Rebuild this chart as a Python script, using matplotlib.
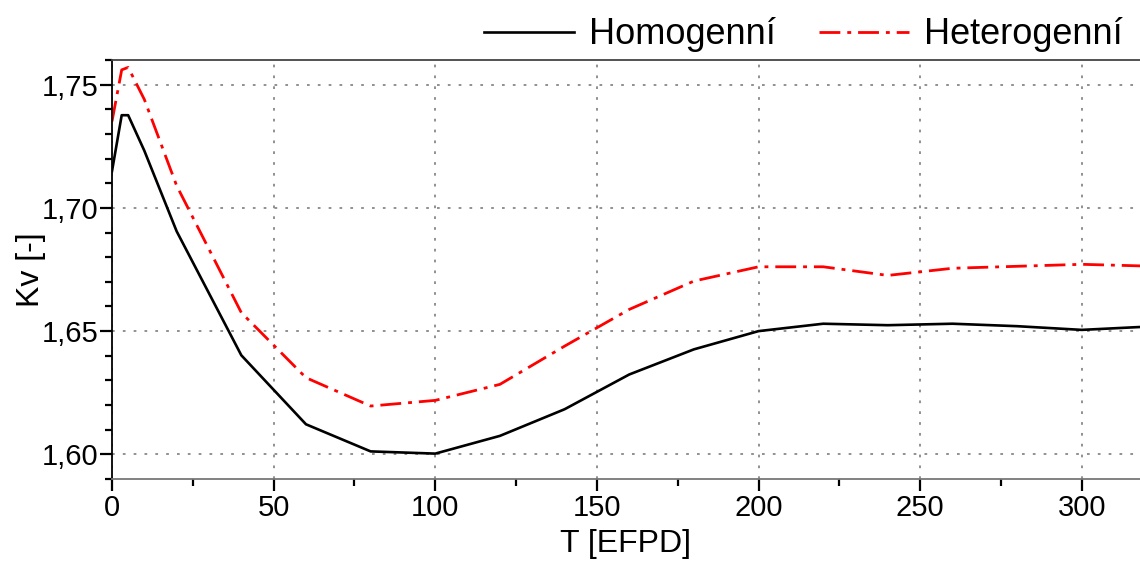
import matplotlib
matplotlib.use("Agg")
import matplotlib.pyplot as plt
from matplotlib.ticker import MultipleLocator, FuncFormatter

plt.rcParams['font.family'] = ['Liberation Sans', 'DejaVu Sans']

# burnup points [EFPD]
t = [0, 3, 5, 10, 20, 40, 60, 80, 100, 120, 140, 160, 180, 200, 220, 240, 260, 280, 300, 320]

# Kv values
kv_homo = [1.7149, 1.7376, 1.7376, 1.7232, 1.6905, 1.6402, 1.6122, 1.6012, 1.6003, 1.6075,
           1.6183, 1.6324, 1.6426, 1.6500, 1.6530, 1.6524, 1.6530, 1.6520, 1.6505, 1.6518]
kv_hetero = [1.7351, 1.7560, 1.7570, 1.7440, 1.7090, 1.6575, 1.6311, 1.6196, 1.6219, 1.6284,
             1.6439, 1.6588, 1.6703, 1.6761, 1.6761, 1.6726, 1.6755, 1.6763, 1.6771, 1.6764]

fig = plt.figure(figsize=(11.4, 5.63), dpi=100)
ax = fig.add_axes([112 / 1140, 1 - 479 / 563, 1 - 112 / 1140, (479 - 60) / 563])

ax.plot(t, kv_homo, color='black', lw=1.9, label='Homogenní')
ax.plot(t, kv_hetero, color='red', lw=2.0, linestyle=(0, (7.5, 2.5, 1.4, 2.5)), label='Heterogenní')

ax.set_xlim(0, 318)
ax.set_ylim(1.590, 1.760)

ax.xaxis.set_major_locator(MultipleLocator(50))
ax.xaxis.set_minor_locator(MultipleLocator(25))
ax.yaxis.set_major_locator(MultipleLocator(0.05))
ax.yaxis.set_minor_locator(MultipleLocator(0.01))
ax.yaxis.set_major_formatter(FuncFormatter(lambda v, p: f"{v:.2f}".replace('.', ',')))

ax.tick_params(which='major', direction='out', length=8.5, width=1.6, labelsize=21)
ax.tick_params(which='minor', direction='out', length=5, width=1.6)
ax.tick_params(axis='x', which='major', pad=2)
ax.tick_params(axis='y', which='major', pad=1)
ax.tick_params(top=False, right=False, which='both')

ax.grid(True, which='major', color='#888888', linestyle=(0, (1.5, 4.5)), lw=1.3)

ax.spines['right'].set_visible(False)
ax.spines['top'].set_color('#444444')
ax.spines['bottom'].set_color('#777777')
ax.spines['left'].set_color('black')
for s in ax.spines.values():
    s.set_linewidth(1.3)

ax.set_xlabel('T [EFPD]', fontsize=23, labelpad=5)
ax.set_ylabel('Kv [-]', fontsize=23, labelpad=-3)

fig.legend(loc='upper right', bbox_to_anchor=(0.991, 0.982), ncol=2, frameon=False,
           fontsize=26, handlelength=2.5, handletextpad=0.4, columnspacing=1.2,
           borderaxespad=0, borderpad=0.2)

fig.savefig('out.png', dpi=100)
